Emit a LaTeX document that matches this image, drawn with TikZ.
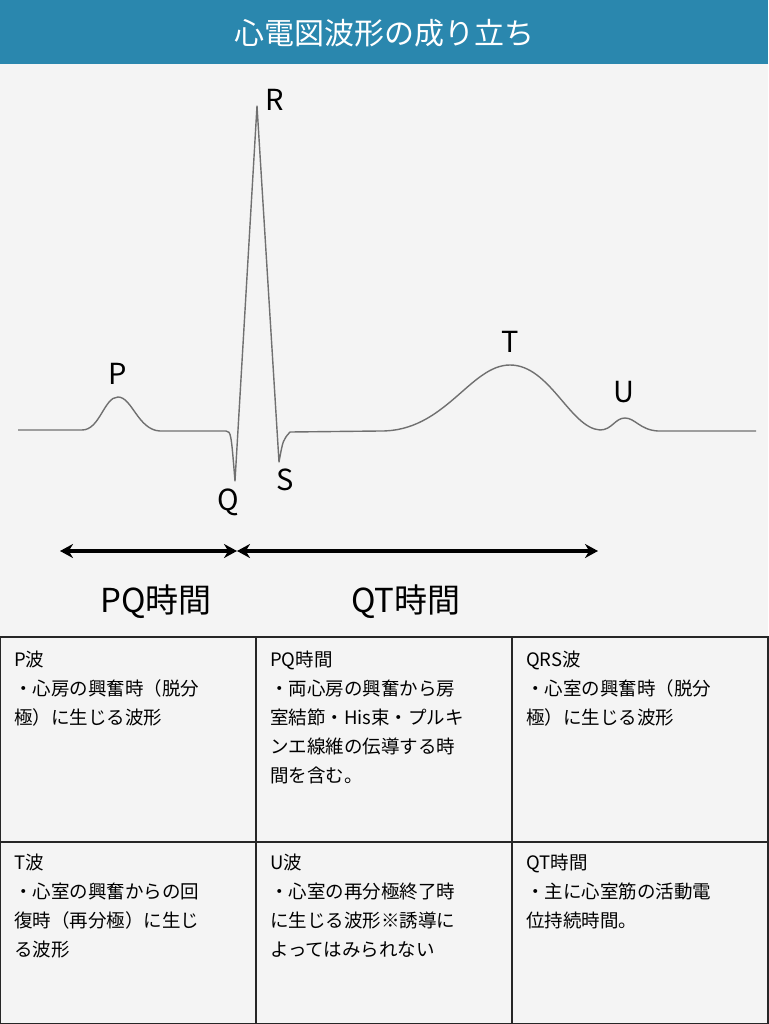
\documentclass[tikz,border=0pt]{standalone}
\usepackage{fontspec}
\setmainfont{Noto Sans CJK JP}
\usetikzlibrary{arrows.meta}
\definecolor{hdr}{HTML}{2A87AE}
\definecolor{bg}{HTML}{F4F4F4}
\definecolor{wave}{HTML}{707070}
\begin{document}
\begin{tikzpicture}[x=1pt,y=-1pt,
  lbl/.style={font=\fontsize{29}{30}\selectfont, inner sep=0},
  big/.style={font=\fontsize{33}{34}\selectfont, inner sep=0},
  cell/.style={anchor=north west, inner sep=0, align=left, font=\fontsize{18.5}{29}\selectfont},
  rng/.style={line width=3.2pt, {Stealth[length=13pt,width=14pt]}-{Stealth[length=13pt,width=14pt]}}]
\useasboundingbox (0,0) rectangle (768,1024);
\fill[bg] (0,0) rectangle (768,1024);
\fill[hdr] (0,0) rectangle (768,64);
\node[text=white, font=\fontsize{30}{32}\selectfont] (title) at (384,33) {心電図波形の成り立ち};
% waveform
\draw[wave, line width=1.4pt, line join=round]
 (18,430) -- (82,430) .. controls (100,430) and (104,397) .. (118,397)
 .. controls (132,397) and (138,430) .. (160,431) -- (226,431)
 .. controls (231,432) .. (235,481) -- (257,106) -- (279,462)
 .. controls (283,440) .. (290,432) -- (380,431)
 .. controls (445,432) and (470,365) .. (510,365)
 .. controls (550,365) and (570,428) .. (600,430)
 .. controls (612,430) and (615,418) .. (625,418)
 .. controls (635,418) and (640,430) .. (658,431) -- (756,431);
\node[lbl] (R) at (275,100) {R};
\node[lbl] (P) at (118,374) {P};
\node[lbl] (Q) at (228,502) {Q};
\node[lbl] (S) at (285,480) {S};
\node[lbl] (T) at (510,342) {T};
\node[lbl] (U) at (624,392) {U};
% ranges
\coordinate (a1) at (60,551);
\coordinate (a2) at (237,551);
\coordinate (a3) at (598,551);
\draw[rng] (a1) -- (a2);
\draw[rng] (a2) -- (a3);
\node[big] (pq) at (156,602) {PQ時間};
\node[big] (qt) at (406,602) {QT時間};
% table
\draw[line width=1.3pt, black!85] (0,637) rectangle (768,1024);
\draw[line width=1.3pt, black!85] (0,842) -- (768,842);
\draw[line width=1.3pt, black!85] (256,637) -- (256,1024);
\draw[line width=1.3pt, black!85] (512,637) -- (512,1024);
\node[cell] (c1) at (14,651) {P波\\・心房の興奮時（脱分\\極）に生じる波形};
\node[cell] (c2) at (270,651) {PQ時間\\・両心房の興奮から房\\室結節・His束・プルキ\\ンエ線維の伝導する時\\間を含む。};
\node[cell] (c3) at (526,651) {QRS波\\・心室の興奮時（脱分\\極）に生じる波形};
\node[cell] (c4) at (14,854) {T波\\・心室の興奮からの回\\復時（再分極）に生じ\\る波形};
\node[cell] (c5) at (270,854) {U波\\・心室の再分極終了時\\に生じる波形※誘導に\\よってはみられない};
\node[cell] (c6) at (526,854) {QT時間\\・主に心室筋の活動電\\位持続時間。};
\end{tikzpicture}
\end{document}
